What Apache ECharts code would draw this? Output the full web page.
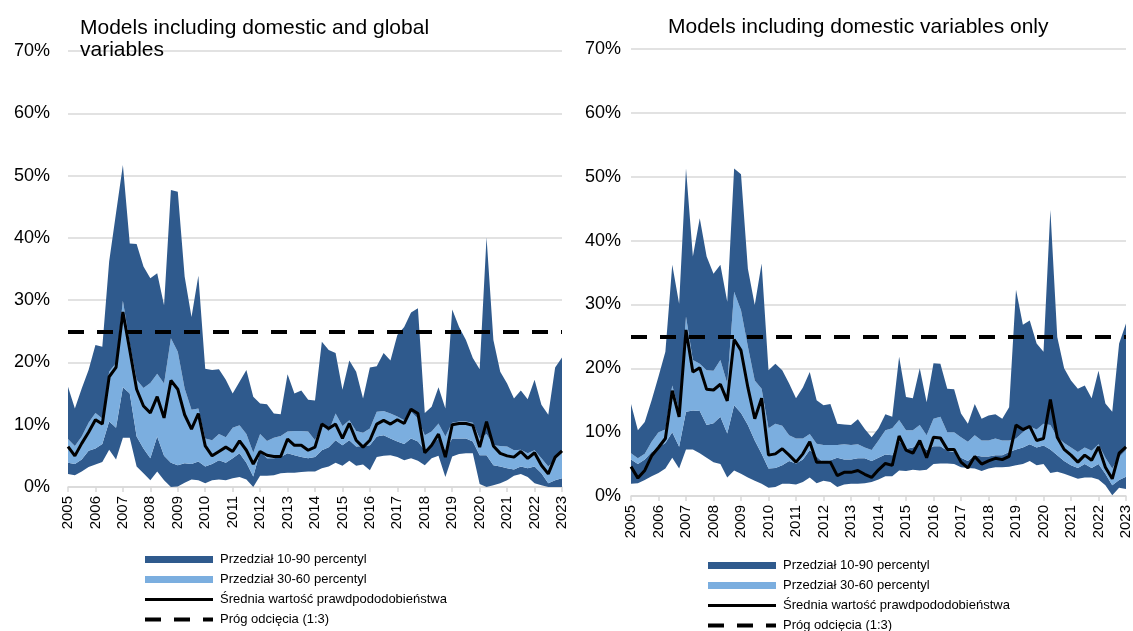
<!DOCTYPE html>
<html>
<head>
<meta charset="utf-8">
<script src="https://cdn.jsdelivr.net/npm/echarts@6/dist/echarts.min.js"></script>
<style>
html,body{margin:0;padding:0;background:#fff;}
#chart{width:1133px;height:631px;}
</style>
</head>
<body>
<div id="chart"></div>
<script>
// ---- categories (quarterly, 2005 Q1 .. 2023 Q1) ----
const YEARS = [2005,2006,2007,2008,2009,2010,2011,2012,2013,2014,2015,2016,2017,2018,2019,2020,2021,2022,2023];
const QUARTERS = ['Q1','Q2','Q3','Q4'];
const LAST_CATEGORY = '2023 Q1';
const Y_TICKS = [0,10,20,30,40,50,60,70];
const CUTOFF = 25;

// ---- Left panel: models including domestic and global variables (%) ----
const L_p10 = [2.1,1.9,2.5,3.2,3.6,4.0,6.0,4.4,7.9,7.9,
  3.3,2.2,1.1,2.5,1.1,0.0,0.1,0.7,1.2,1.1,
  0.6,1.1,1.2,1.1,1.4,1.6,1.2,0.0,1.8,1.8,
  1.9,2.2,2.3,2.3,2.4,2.5,2.5,3.0,3.3,3.9,
  3.4,4.2,3.4,3.6,2.7,4.8,5.0,5.1,4.8,4.3,
  4.6,4.2,3.5,4.6,5.0,1.6,4.9,5.3,5.4,5.4,
  0.5,0.0,0.3,0.6,1.1,1.8,2.1,1.6,0.6,0.3,
  0.0,0.0,0.0];
const L_p30 = [3.9,3.7,4.4,5.8,6.2,6.9,10.5,9.5,16.0,15.0,
  8.1,6.2,4.6,8.1,5.0,3.9,3.5,3.8,3.7,4.1,
  3.3,3.7,4.3,3.9,4.6,5.4,3.9,1.7,5.7,4.6,
  4.6,4.8,5.4,5.1,4.8,4.6,4.8,5.9,6.4,7.5,
  6.7,7.5,6.5,6.6,6.7,8.1,8.3,7.8,7.3,6.9,
  7.8,7.3,5.9,6.9,7.8,5.9,7.8,7.8,7.8,7.3,
  5.1,5.1,3.5,3.3,3.0,2.8,3.3,3.0,3.3,2.2,
  0.6,1.1,1.4];
const L_p60 = [7.7,6.6,8.1,10.3,11.9,11.0,18.5,19.9,29.9,23.1,
  17.2,15.9,16.7,18.2,16.6,23.9,21.7,15.8,12.4,12.6,
  7.8,7.5,8.5,8.0,9.5,9.9,8.5,5.5,8.5,7.4,
  7.9,8.2,8.9,9.0,9.0,8.9,7.5,9.9,8.9,11.8,
  9.8,10.7,9.0,8.7,9.4,12.1,12.2,11.8,11.3,10.7,
  12.1,11.0,8.3,8.9,10.2,8.1,10.3,10.5,10.5,10.3,
  7.8,8.5,6.7,6.6,6.5,5.9,6.0,5.4,5.9,4.6,
  3.3,4.4,5.4];
const L_p90 = [16.1,12.6,15.8,18.8,22.8,22.5,36.2,44.0,51.7,39.1,
  39.0,35.4,33.5,34.3,29.2,47.7,47.4,33.8,27.3,33.9,
  19.0,18.8,18.9,17.2,15.0,16.9,18.8,14.5,13.4,13.3,
  11.8,11.7,18.1,15.0,15.5,14.0,13.9,23.3,22.0,21.5,
  15.6,20.3,18.5,14.2,19.2,19.4,21.5,20.3,24.4,25.7,
  28.0,28.7,11.9,12.9,16.0,12.6,28.5,25.7,23.6,20.7,
  18.9,40.1,23.6,18.5,16.6,14.2,15.5,14.1,17.2,13.2,
  11.6,19.2,20.8];
const L_mean = [6.5,5.0,7.0,8.8,10.8,10.1,17.7,19.2,28.1,22.0,
  15.7,13.0,11.9,14.5,11.1,17.1,15.7,11.6,9.3,11.8,
  6.6,5.0,5.7,6.4,5.7,7.4,5.9,3.7,5.7,5.1,
  4.9,4.9,7.7,6.7,6.7,5.9,6.4,10.1,9.4,10.1,
  7.8,10.2,7.5,6.4,7.5,10.1,10.7,10.1,10.8,10.2,
  12.5,11.8,5.5,6.7,8.5,4.8,10.0,10.2,10.2,9.9,
  6.4,10.5,6.6,5.4,5.0,4.8,5.7,4.6,5.5,3.5,
  2.1,4.8,5.8];

// ---- Right panel: models including domestic variables only (%) ----
const R_p10 = [1.9,2.0,2.5,3.1,3.6,4.3,6.0,4.3,7.3,7.3,
  6.7,6.0,5.3,5.0,2.9,4.0,3.5,2.9,2.4,1.9,
  1.3,1.4,1.9,1.9,1.8,2.2,2.9,2.0,2.4,2.2,
  1.4,1.8,1.9,1.9,2.0,2.2,2.6,3.1,3.1,4.0,
  3.9,4.1,4.0,4.1,5.0,5.1,5.1,5.0,4.5,4.4,
  4.3,3.9,4.3,4.5,4.5,4.6,4.8,5.0,5.5,4.8,
  5.0,3.6,3.8,3.5,3.1,2.7,2.9,2.9,2.6,1.7,
  0.1,1.3,1.1];
const R_p30 = [5.7,5.0,5.7,6.9,7.6,8.3,10.0,7.7,13.2,13.4,
  13.3,11.1,11.4,12.4,9.8,14.2,13.0,11.1,8.7,6.6,
  4.3,4.4,4.8,5.5,5.1,5.7,7.2,6.2,5.2,5.6,
  6.0,5.7,5.7,5.9,5.9,5.5,6.0,6.5,6.4,8.6,
  7.4,7.6,8.3,7.2,7.8,7.8,7.1,6.9,6.0,5.5,
  6.4,6.2,6.2,6.4,6.4,6.9,7.3,7.6,8.1,7.6,
  7.9,7.3,6.4,5.5,4.8,4.4,5.0,4.4,5.0,3.5,
  1.7,2.5,3.0];
const R_p60 = [6.7,5.9,6.6,8.5,10.0,10.4,17.3,13.4,28.1,21.3,
  20.7,19.7,19.6,21.3,17.6,32.0,29.1,23.4,18.1,16.8,
  10.6,11.3,11.0,9.5,9.0,9.0,9.7,8.2,8.0,8.0,
  8.0,8.1,8.0,8.1,7.6,7.2,8.7,10.3,10.6,11.9,
  10.3,10.3,11.1,9.5,12.1,12.4,10.0,10.0,9.2,8.5,
  9.5,8.7,8.7,9.0,8.7,8.7,9.0,10.0,10.9,10.4,
  11.3,11.1,9.2,8.3,7.6,6.9,7.6,7.1,8.1,6.0,
  4.3,6.1,7.2];
const R_p90 = [14.4,10.3,11.6,15.0,18.7,22.6,36.2,30.1,51.3,37.5,
  43.5,37.5,34.8,36.2,30.4,51.3,50.4,35.6,29.9,36.4,
  19.7,20.7,19.7,17.6,15.3,17.0,19.4,15.0,14.2,14.4,
  11.3,11.2,11.1,12.0,10.5,9.2,10.6,12.8,12.4,21.8,
  15.5,15.3,20.0,14.7,20.8,20.7,16.8,16.7,12.9,11.3,
  14.4,12.1,12.6,12.8,12.1,13.9,32.3,26.8,27.5,23.9,
  22.6,44.8,24.9,20.0,18.1,16.8,17.3,15.3,19.6,14.5,
  13.2,23.9,27.0];
const R_mean = [4.6,2.8,4.0,6.3,7.6,9.0,16.5,12.4,26.0,19.4,
  20.1,16.7,16.6,17.5,14.9,24.5,22.8,17.0,12.1,15.3,
  6.4,6.6,7.4,6.4,5.3,6.6,8.5,5.3,5.3,5.3,
  3.2,3.7,3.7,4.0,3.4,2.9,4.1,5.1,4.8,9.4,
  7.2,6.7,8.7,6.0,9.2,9.1,7.3,7.3,5.3,4.4,
  6.2,5.0,5.5,5.9,5.7,6.2,11.1,10.4,10.9,8.7,
  9.0,15.1,9.2,7.3,6.4,5.3,6.4,5.6,7.7,4.5,
  2.7,6.7,7.7];

// ---- names / texts ----
const TITLE_LEFT = 'Models including domestic and global\nvariables';
const TITLE_RIGHT = 'Models including domestic variables only';
const N_OUTER = 'Przedział 10-90 percentyl';
const N_INNER = 'Przedział 30-60 percentyl';
const N_MEAN = 'Średnia wartość prawdpododobieństwa';
const N_CUT = 'Próg odcięcia (1:3)';

// ---- build ----
const categories = [];
outer: for (const y of YEARS) {
  for (const q of QUARTERS) {
    const c = y + ' ' + q;
    categories.push(c);
    if (c === LAST_CATEGORY) break outer;
  }
}

const DARK = '#2F5A8D';
const LIGHT = '#7BAEDF';
const GRID_C = '#D9D9D9';
const FONT = '"Liberation Sans", Arial, Helvetica, sans-serif';
const DASH = [16, 13];

function diff(lo, hi) {
  return lo.map((v, i) => Math.max(0, +(hi[i] - v).toFixed(3)));
}

function panelSeries(idx, p10, p30, p60, p90, mean) {
  const st = 'band' + idx;
  const common = {
    type: 'line', xAxisIndex: idx, yAxisIndex: idx, stack: st,
    symbol: 'none', showSymbol: false, silent: true,
    lineStyle: { width: 0, opacity: 0 }, emphasis: { disabled: true }
  };
  return [
    Object.assign({}, common, { name: 'base' + idx, data: p10 }),
    Object.assign({}, common, { name: N_OUTER, data: diff(p10, p30), color: DARK,
      itemStyle: { color: DARK }, areaStyle: { color: DARK, opacity: 1 } }),
    Object.assign({}, common, { name: N_INNER, data: diff(p30, p60), color: LIGHT,
      itemStyle: { color: LIGHT }, areaStyle: { color: LIGHT, opacity: 1 } }),
    Object.assign({}, common, { name: N_OUTER, data: diff(p60, p90), color: DARK,
      itemStyle: { color: DARK }, areaStyle: { color: DARK, opacity: 1 } }),
    {
      name: N_MEAN, type: 'line', xAxisIndex: idx, yAxisIndex: idx, data: mean,
      symbol: 'none', showSymbol: false, color: '#000', z: 5,
      lineStyle: { color: '#000', width: 3 }, emphasis: { disabled: true }
    },
    {
      name: N_CUT, type: 'line', xAxisIndex: idx, yAxisIndex: idx, data: [],
      symbol: 'none', color: '#000', z: 6,
      lineStyle: { color: '#000', width: 4, type: DASH },
      markLine: {
        silent: true, symbol: 'none', label: { show: false },
        lineStyle: { color: '#000', width: 4, type: DASH },
        emphasis: { disabled: true },
        data: [{ yAxis: CUTOFF }]
      }
    }
  ];
}

function xAxis(idx) {
  return {
    type: 'category', gridIndex: idx, data: categories, boundaryGap: false,
    axisLine: { lineStyle: { color: GRID_C, width: 1.5 } },
    axisTick: { show: true, interval: 3, length: 5, lineStyle: { color: GRID_C, width: 1.5 } },
    axisLabel: {
      interval: 3, rotate: 90, margin: 9, color: '#000', fontSize: 15, fontFamily: FONT,
      formatter: v => v.slice(0, 4)
    },
    splitLine: { show: false }
  };
}

function yAxis(idx, margin) {
  return {
    type: 'value', gridIndex: idx, min: Y_TICKS[0], max: Y_TICKS[Y_TICKS.length - 1],
    interval: Y_TICKS[1] - Y_TICKS[0],
    axisLine: { show: false }, axisTick: { show: false },
    axisLabel: { color: '#000', fontSize: 18, fontFamily: FONT, margin: margin,
      formatter: v => v + '%' },
    splitLine: { lineStyle: { color: GRID_C, width: 1.5 } }
  };
}

function legend(left, top) {
  const hideSym = { color: 'rgba(0,0,0,0)', borderWidth: 0, borderColor: 'rgba(0,0,0,0)' };
  return {
    orient: 'vertical', left: left, top: top, padding: 0, height: 90,
    itemWidth: 68, itemHeight: 7, itemGap: 7, selectedMode: false,
    textStyle: { fontSize: 13, color: '#000', fontFamily: FONT, padding: [0, 0, 0, 2] },
    data: [
      { name: N_OUTER, icon: 'rect', itemStyle: { color: DARK } },
      { name: N_INNER, icon: 'rect', itemStyle: { color: LIGHT } },
      { name: N_MEAN, itemStyle: hideSym, lineStyle: { color: '#000', width: 3, type: 'solid' } },
      { name: N_CUT, itemStyle: hideSym, lineStyle: { color: '#000', width: 4, type: DASH } }
    ]
  };
}

const chart = echarts.init(document.getElementById('chart'), null, { renderer: 'canvas' });
chart.setOption({
  animation: false,
  backgroundColor: '#fff',
  title: [
    { text: TITLE_LEFT, left: 80, top: 17, padding: 0,
      textStyle: { fontSize: 21, fontWeight: 'normal', color: '#000', fontFamily: FONT, lineHeight: 22 } },
    { text: TITLE_RIGHT, left: 668, top: 16, padding: 0,
      textStyle: { fontSize: 21, fontWeight: 'normal', color: '#000', fontFamily: FONT, lineHeight: 22 } }
  ],
  grid: [
    { left: 68, top: 51, width: 494, height: 436, containLabel: false, outerBoundsMode: 'none' },
    { left: 631, top: 49, width: 495, height: 447, containLabel: false, outerBoundsMode: 'none' }
  ],
  xAxis: [xAxis(0), xAxis(1)],
  yAxis: [yAxis(0, 18), yAxis(1, 10)],
  legend: [legend(143, 553), legend(706, 559)],
  tooltip: { show: false },
  series: [].concat(
    panelSeries(0, L_p10, L_p30, L_p60, L_p90, L_mean),
    panelSeries(1, R_p10, R_p30, R_p60, R_p90, R_mean)
  )
});
</script>
</body>
</html>
